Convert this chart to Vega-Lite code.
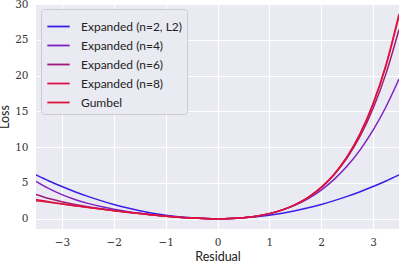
{
  "$schema": "https://vega.github.io/schema/vega-lite/v6.json",
  "width": 363,
  "height": 225,
  "autosize": {"type": "none"},
  "padding": {"left": 36, "top": 4, "right": 0, "bottom": 35},
  "background": "white",
  "config": {
    "view": {"fill": "#EAEAF2", "stroke": null},
    "axis": {
      "domain": false,
      "ticks": false,
      "grid": true,
      "gridColor": "white",
      "gridWidth": 1.2,
      "labelFont": "DejaVu Serif",
      "labelFontSize": 10.5,
      "labelColor": "#333333",
      "titleFont": "Lato",
      "titleFontSize": 12.5,
      "titleFontWeight": "normal",
      "titleColor": "#222222"
    }
  },
  "data": {
    "values": [
      {"residual": -3.5, "loss": 6.125, "series": "Expanded (n=2, L2)"},
      {"residual": -3.25, "loss": 5.28125, "series": "Expanded (n=2, L2)"},
      {"residual": -3, "loss": 4.5, "series": "Expanded (n=2, L2)"},
      {"residual": -2.75, "loss": 3.78125, "series": "Expanded (n=2, L2)"},
      {"residual": -2.5, "loss": 3.125, "series": "Expanded (n=2, L2)"},
      {"residual": -2.25, "loss": 2.53125, "series": "Expanded (n=2, L2)"},
      {"residual": -2, "loss": 2, "series": "Expanded (n=2, L2)"},
      {"residual": -1.75, "loss": 1.53125, "series": "Expanded (n=2, L2)"},
      {"residual": -1.5, "loss": 1.125, "series": "Expanded (n=2, L2)"},
      {"residual": -1.25, "loss": 0.78125, "series": "Expanded (n=2, L2)"},
      {"residual": -1, "loss": 0.5, "series": "Expanded (n=2, L2)"},
      {"residual": -0.75, "loss": 0.28125, "series": "Expanded (n=2, L2)"},
      {"residual": -0.5, "loss": 0.125, "series": "Expanded (n=2, L2)"},
      {"residual": -0.25, "loss": 0.03125, "series": "Expanded (n=2, L2)"},
      {"residual": 0, "loss": 0, "series": "Expanded (n=2, L2)"},
      {"residual": 0.25, "loss": 0.03125, "series": "Expanded (n=2, L2)"},
      {"residual": 0.5, "loss": 0.125, "series": "Expanded (n=2, L2)"},
      {"residual": 0.75, "loss": 0.28125, "series": "Expanded (n=2, L2)"},
      {"residual": 1, "loss": 0.5, "series": "Expanded (n=2, L2)"},
      {"residual": 1.25, "loss": 0.78125, "series": "Expanded (n=2, L2)"},
      {"residual": 1.5, "loss": 1.125, "series": "Expanded (n=2, L2)"},
      {"residual": 1.75, "loss": 1.53125, "series": "Expanded (n=2, L2)"},
      {"residual": 2, "loss": 2, "series": "Expanded (n=2, L2)"},
      {"residual": 2.25, "loss": 2.53125, "series": "Expanded (n=2, L2)"},
      {"residual": 2.5, "loss": 3.125, "series": "Expanded (n=2, L2)"},
      {"residual": 2.75, "loss": 3.78125, "series": "Expanded (n=2, L2)"},
      {"residual": 3, "loss": 4.5, "series": "Expanded (n=2, L2)"},
      {"residual": 3.25, "loss": 5.28125, "series": "Expanded (n=2, L2)"},
      {"residual": 3.5, "loss": 6.125, "series": "Expanded (n=2, L2)"},

      {"residual": -3.5, "loss": 5.2318, "series": "Expanded (n=4)"},
      {"residual": -3.25, "loss": 4.2085, "series": "Expanded (n=4)"},
      {"residual": -3, "loss": 3.375, "series": "Expanded (n=4)"},
      {"residual": -2.75, "loss": 2.6981, "series": "Expanded (n=4)"},
      {"residual": -2.5, "loss": 2.1484, "series": "Expanded (n=4)"},
      {"residual": -2.25, "loss": 1.7007, "series": "Expanded (n=4)"},
      {"residual": -2, "loss": 1.3333, "series": "Expanded (n=4)"},
      {"residual": -1.75, "loss": 1.0288, "series": "Expanded (n=4)"},
      {"residual": -1.5, "loss": 0.7734, "series": "Expanded (n=4)"},
      {"residual": -1.25, "loss": 0.5575, "series": "Expanded (n=4)"},
      {"residual": -1, "loss": 0.375, "series": "Expanded (n=4)"},
      {"residual": -0.75, "loss": 0.2241, "series": "Expanded (n=4)"},
      {"residual": -0.5, "loss": 0.1068, "series": "Expanded (n=4)"},
      {"residual": -0.25, "loss": 0.0288, "series": "Expanded (n=4)"},
      {"residual": 0, "loss": 0, "series": "Expanded (n=4)"},
      {"residual": 0.25, "loss": 0.034, "series": "Expanded (n=4)"},
      {"residual": 0.5, "loss": 0.1484, "series": "Expanded (n=4)"},
      {"residual": 0.75, "loss": 0.3647, "series": "Expanded (n=4)"},
      {"residual": 1, "loss": 0.7083, "series": "Expanded (n=4)"},
      {"residual": 1.25, "loss": 1.2085, "series": "Expanded (n=4)"},
      {"residual": 1.5, "loss": 1.8984, "series": "Expanded (n=4)"},
      {"residual": 1.75, "loss": 2.8153, "series": "Expanded (n=4)"},
      {"residual": 2, "loss": 4, "series": "Expanded (n=4)"},
      {"residual": 2.25, "loss": 5.4976, "series": "Expanded (n=4)"},
      {"residual": 2.5, "loss": 7.3568, "series": "Expanded (n=4)"},
      {"residual": 2.75, "loss": 9.6304, "series": "Expanded (n=4)"},
      {"residual": 3, "loss": 12.375, "series": "Expanded (n=4)"},
      {"residual": 3.25, "loss": 15.6512, "series": "Expanded (n=4)"},
      {"residual": 3.5, "loss": 19.5234, "series": "Expanded (n=4)"},

      {"residual": -3.5, "loss": 3.4081, "series": "Expanded (n=6)"},
      {"residual": -3.25, "loss": 2.8236, "series": "Expanded (n=6)"},
      {"residual": -3, "loss": 2.3625, "series": "Expanded (n=6)"},
      {"residual": -2.75, "loss": 1.9882, "series": "Expanded (n=6)"},
      {"residual": -2.5, "loss": 1.6737, "series": "Expanded (n=6)"},
      {"residual": -2.25, "loss": 1.4003, "series": "Expanded (n=6)"},
      {"residual": -2, "loss": 1.1556, "series": "Expanded (n=6)"},
      {"residual": -1.75, "loss": 0.9319, "series": "Expanded (n=6)"},
      {"residual": -1.5, "loss": 0.726, "series": "Expanded (n=6)"},
      {"residual": -1.25, "loss": 0.5373, "series": "Expanded (n=6)"},
      {"residual": -1, "loss": 0.3681, "series": "Expanded (n=6)"},
      {"residual": -0.75, "loss": 0.2224, "series": "Expanded (n=6)"},
      {"residual": -0.5, "loss": 0.1065, "series": "Expanded (n=6)"},
      {"residual": -0.25, "loss": 0.0288, "series": "Expanded (n=6)"},
      {"residual": 0, "loss": 0, "series": "Expanded (n=6)"},
      {"residual": 0.25, "loss": 0.034, "series": "Expanded (n=6)"},
      {"residual": 0.5, "loss": 0.1487, "series": "Expanded (n=6)"},
      {"residual": 0.75, "loss": 0.367, "series": "Expanded (n=6)"},
      {"residual": 1, "loss": 0.7181, "series": "Expanded (n=6)"},
      {"residual": 1.25, "loss": 1.2392, "series": "Expanded (n=6)"},
      {"residual": 1.5, "loss": 1.9775, "series": "Expanded (n=6)"},
      {"residual": 1.75, "loss": 2.9919, "series": "Expanded (n=6)"},
      {"residual": 2, "loss": 4.3556, "series": "Expanded (n=6)"},
      {"residual": 2.25, "loss": 6.1583, "series": "Expanded (n=6)"},
      {"residual": 2.5, "loss": 8.5097, "series": "Expanded (n=6)"},
      {"residual": 2.75, "loss": 11.5417, "series": "Expanded (n=6)"},
      {"residual": 3, "loss": 15.4125, "series": "Expanded (n=6)"},
      {"residual": 3.25, "loss": 20.3095, "series": "Expanded (n=6)"},
      {"residual": 3.5, "loss": 26.4534, "series": "Expanded (n=6)"},

      {"residual": -3.5, "loss": 2.69, "series": "Expanded (n=8)"},
      {"residual": -3.25, "loss": 2.3724, "series": "Expanded (n=8)"},
      {"residual": -3, "loss": 2.0913, "series": "Expanded (n=8)"},
      {"residual": -2.75, "loss": 1.8333, "series": "Expanded (n=8)"},
      {"residual": -2.5, "loss": 1.5905, "series": "Expanded (n=8)"},
      {"residual": -2.25, "loss": 1.3587, "series": "Expanded (n=8)"},
      {"residual": -2, "loss": 1.1365, "series": "Expanded (n=8)"},
      {"residual": -1.75, "loss": 0.9241, "series": "Expanded (n=8)"},
      {"residual": -1.5, "loss": 0.7232, "series": "Expanded (n=8)"},
      {"residual": -1.25, "loss": 0.5365, "series": "Expanded (n=8)"},
      {"residual": -1, "loss": 0.3679, "series": "Expanded (n=8)"},
      {"residual": -0.75, "loss": 0.2224, "series": "Expanded (n=8)"},
      {"residual": -0.5, "loss": 0.1065, "series": "Expanded (n=8)"},
      {"residual": -0.25, "loss": 0.0288, "series": "Expanded (n=8)"},
      {"residual": 0, "loss": 0, "series": "Expanded (n=8)"},
      {"residual": 0.25, "loss": 0.034, "series": "Expanded (n=8)"},
      {"residual": 0.5, "loss": 0.1487, "series": "Expanded (n=8)"},
      {"residual": 0.75, "loss": 0.367, "series": "Expanded (n=8)"},
      {"residual": 1, "loss": 0.7183, "series": "Expanded (n=8)"},
      {"residual": 1.25, "loss": 1.2403, "series": "Expanded (n=8)"},
      {"residual": 1.5, "loss": 1.9816, "series": "Expanded (n=8)"},
      {"residual": 1.75, "loss": 3.0041, "series": "Expanded (n=8)"},
      {"residual": 2, "loss": 4.3873, "series": "Expanded (n=8)"},
      {"residual": 2.25, "loss": 6.2325, "series": "Expanded (n=8)"},
      {"residual": 2.5, "loss": 8.6686, "series": "Expanded (n=8)"},
      {"residual": 2.75, "loss": 11.8588, "series": "Expanded (n=8)"},
      {"residual": 3, "loss": 16.0092, "series": "Expanded (n=8)"},
      {"residual": 3.25, "loss": 21.3781, "series": "Expanded (n=8)"},
      {"residual": 3.5, "loss": 28.2885, "series": "Expanded (n=8)"},

      {"residual": -3.5, "loss": 2.5302, "series": "Gumbel"},
      {"residual": -3.25, "loss": 2.2888, "series": "Gumbel"},
      {"residual": -3, "loss": 2.0498, "series": "Gumbel"},
      {"residual": -2.75, "loss": 1.8139, "series": "Gumbel"},
      {"residual": -2.5, "loss": 1.5821, "series": "Gumbel"},
      {"residual": -2.25, "loss": 1.3554, "series": "Gumbel"},
      {"residual": -2, "loss": 1.1353, "series": "Gumbel"},
      {"residual": -1.75, "loss": 0.9238, "series": "Gumbel"},
      {"residual": -1.5, "loss": 0.7231, "series": "Gumbel"},
      {"residual": -1.25, "loss": 0.5365, "series": "Gumbel"},
      {"residual": -1, "loss": 0.3679, "series": "Gumbel"},
      {"residual": -0.75, "loss": 0.2224, "series": "Gumbel"},
      {"residual": -0.5, "loss": 0.1065, "series": "Gumbel"},
      {"residual": -0.25, "loss": 0.0288, "series": "Gumbel"},
      {"residual": 0, "loss": 0, "series": "Gumbel"},
      {"residual": 0.25, "loss": 0.034, "series": "Gumbel"},
      {"residual": 0.5, "loss": 0.1487, "series": "Gumbel"},
      {"residual": 0.75, "loss": 0.367, "series": "Gumbel"},
      {"residual": 1, "loss": 0.7183, "series": "Gumbel"},
      {"residual": 1.25, "loss": 1.2403, "series": "Gumbel"},
      {"residual": 1.5, "loss": 1.9817, "series": "Gumbel"},
      {"residual": 1.75, "loss": 3.0046, "series": "Gumbel"},
      {"residual": 2, "loss": 4.3891, "series": "Gumbel"},
      {"residual": 2.25, "loss": 6.2377, "series": "Gumbel"},
      {"residual": 2.5, "loss": 8.6825, "series": "Gumbel"},
      {"residual": 2.75, "loss": 11.8926, "series": "Gumbel"},
      {"residual": 3, "loss": 16.0855, "series": "Gumbel"},
      {"residual": 3.25, "loss": 21.5403, "series": "Gumbel"},
      {"residual": 3.5, "loss": 28.6155, "series": "Gumbel"}
    ]
  },
  "mark": {"type": "line", "interpolate": "monotone", "strokeWidth": 1.5, "clip": true},
  "encoding": {
    "x": {
      "field": "residual", "type": "quantitative",
      "scale": {"domain": [-3.5, 3.5], "nice": false, "zero": false},
      "axis": {"values": [-3, -2, -1, 0, 1, 2, 3], "title": "Residual", "labelPadding": 8, "titlePadding": 3}
    },
    "y": {
      "field": "loss", "type": "quantitative",
      "scale": {"domain": [-1.43, 30], "nice": false, "zero": false},
      "axis": {"values": [0, 5, 10, 15, 20, 25, 30], "title": "Loss", "labelPadding": 8, "titlePadding": 3}
    },
    "color": {
      "field": "series", "type": "nominal",
      "scale": {
        "domain": ["Expanded (n=2, L2)", "Expanded (n=4)", "Expanded (n=6)", "Expanded (n=8)", "Gumbel"],
        "range": ["#3b1ee6", "#7e22c4", "#a01a78", "#e0104c", "#dc143c"]
      },
      "legend": {
        "title": null,
        "orient": "top-left",
        "offset": 5,
        "padding": 5,
        "fillColor": "#EAEAF2",
        "strokeColor": "#cccccc",
        "cornerRadius": 3,
        "symbolType": "stroke",
        "symbolSize": 500,
        "symbolStrokeWidth": 1.8,
        "labelFont": "Lato",
        "labelFontSize": 12,
        "labelColor": "#222222",
        "labelOffset": 10,
        "rowPadding": 0
      }
    }
  }
}
